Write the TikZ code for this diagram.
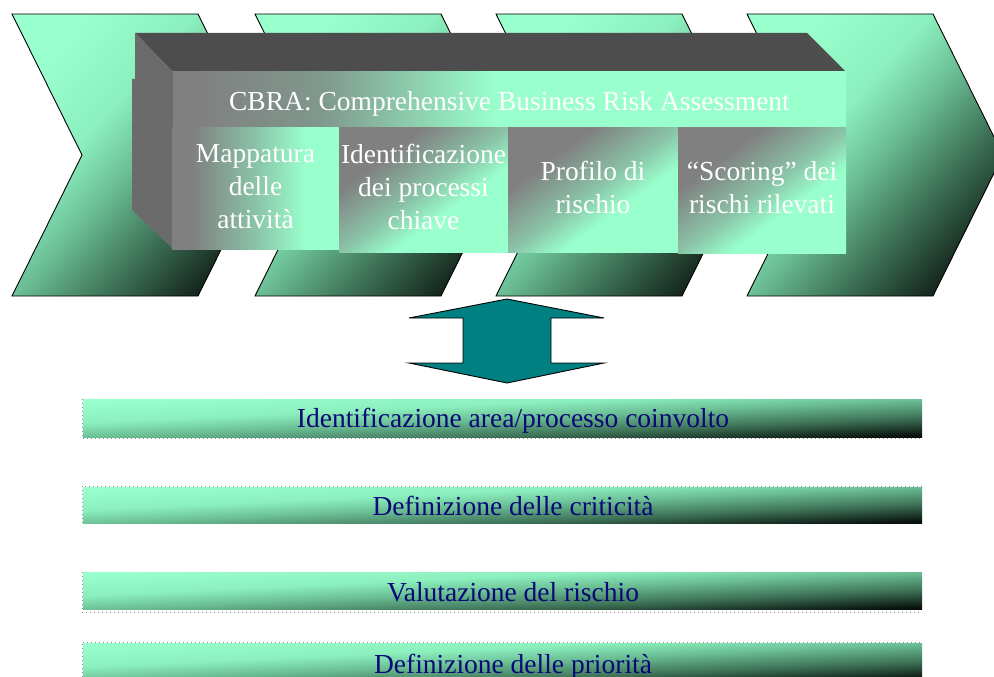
\documentclass[tikz,border=0pt]{standalone}
\usepackage{fontspec}
\setmainfont{Liberation Serif}

% palette
\definecolor{mint}{RGB}{153,255,204}
\definecolor{seaA}{RGB}{140,240,190}
\definecolor{seaB}{RGB}{108,192,150}
\definecolor{seaC}{RGB}{62,115,88}
\definecolor{seaD}{RGB}{22,40,30}
\definecolor{barD}{RGB}{8,16,12}
\definecolor{fgray}{RGB}{128,128,128}
\definecolor{gmA}{RGB}{138,195,168}
\definecolor{gmB}{RGB}{128,152,141}
\definecolor{topgray}{RGB}{77,77,77}
\definecolor{sidegray}{RGB}{107,107,107}
\definecolor{arrowteal}{RGB}{0,128,128}
\definecolor{labelblue}{RGB}{8,8,120}

% Ramps run from 25bp (one corner of the shape) to 75bp (the opposite corner).
% With shading angle = -atan(width/height) the colour bands follow the
% bottom-left/top-right diagonal of the shape's bounding box.
\pgfdeclarehorizontalshading{seagrad}{100bp}{color(0bp)=(mint); color(25bp)=(mint);
  color(40bp)=(seaA); color(50bp)=(seaB); color(62.5bp)=(seaC);
  color(75bp)=(seaD); color(100bp)=(seaD)}
\pgfdeclarehorizontalshading{bargrad}{100bp}{color(0bp)=(mint); color(25bp)=(mint);
  color(40bp)=(seaA); color(50bp)=(seaB); color(62.5bp)=(seaC);
  color(75bp)=(barD); color(100bp)=(barD)}
\pgfdeclarehorizontalshading{graymintdiag}{100bp}{color(0bp)=(fgray); color(32.5bp)=(fgray);
  color(50bp)=(gmA); color(61bp)=(mint); color(100bp)=(mint)}
% grey to mint, horizontal (title band)
\pgfdeclarehorizontalshading{graymintband}{100bp}{color(0bp)=(fgray); color(27bp)=(fgray);
  color(36bp)=(gmB); color(49bp)=(mint); color(100bp)=(mint)}
% grey to mint, horizontal (first step box)
\pgfdeclarehorizontalshading{graymintstep}{100bp}{color(0bp)=(fgray); color(31bp)=(fgray);
  color(50bp)=(gmA); color(65bp)=(mint); color(100bp)=(mint)}

\begin{document}
\begin{tikzpicture}[x=1bp,y=-1bp,
  chev/.style={shade, shading=seagrad, shading angle=-42.2, draw=black, line width=0.9bp, line join=miter},
  dblarrow/.style={fill=arrowteal, draw=black, line width=0.9bp, line join=miter},
  stepbox/.style={shade, shading=graymintdiag, shading angle=-53.7, anchor=north west,
    inner sep=0pt, outer sep=0pt, minimum width=168bp, minimum height=124bp,
    text=white, align=center, font=\fontsize{27.5bp}{33bp}\selectfont},
  band/.style={shade, shading=graymintband, anchor=north west, inner sep=0pt, outer sep=0pt,
    minimum width=673bp, minimum height=56bp, text height=20bp, text depth=0bp,
    text=white, font=\fontsize{27.5bp}{33bp}\selectfont},
  bar/.style={shade, shading=bargrad, shading angle=-87.4, anchor=north west,
    inner sep=0pt, outer sep=0pt, minimum width=839bp},
  bartext/.style={anchor=base, text=labelblue, inner sep=0pt,
    font=\fontsize{27.5bp}{33bp}\selectfont},
  dotline/.style={draw=black!45, line width=0.7bp, dash pattern=on 0.9bp off 3.1bp},
]
\useasboundingbox (0,0) rectangle (994,677);
\clip (0,0) rectangle (994,677);

% process chevrons
\path[chev] (12,14) -- (198,14) -- (268,155) -- (198,296) -- (12,296) -- (82,155) -- cycle;
\path[chev] (255,14) -- (441,14) -- (511,155) -- (441,296) -- (255,296) -- (325,155) -- cycle;
\path[chev] (496,14) -- (682,14) -- (752,155) -- (682,296) -- (496,296) -- (566,155) -- cycle;
\path[chev] (747,14) -- (933,14) -- (1003,155) -- (933,296) -- (747,296) -- (817,155) -- cycle;

% up/down double arrow
\path[dblarrow] (507,299) -- (604,318) -- (551,318) -- (551,363) -- (604,363) -- (507,383)
  -- (409,363) -- (463,363) -- (463,318) -- (409,318) -- cycle;

% 3-D block: top and left faces
\fill[topgray] (135,33) -- (807,33) -- (846,72) -- (173,72) -- cycle;
\fill[sidegray] (135,33) -- (173,72) -- (173,249) -- (132,210) -- (132,79) -- (135,79) -- cycle;

% front face: title band and the four steps
\node[band] (title) at (173,72) {CBRA: Comprehensive Business Risk Assessment};
\node[stepbox, shading=graymintstep, shading angle=0, minimum width=167bp, minimum height=121bp]
  (s1) at (172,128) {\strut Mappatura\\\strut delle\\\strut attività};
\node[stepbox, minimum width=169bp] (s2) at (339,128)
  {\strut Identificazione\\\strut dei processi\\\strut chiave};
\node[stepbox, minimum width=170bp] (s3) at (508,128) {\strut Profilo di\\\strut rischio};
\node[stepbox, minimum height=125bp] (s4) at (678,128) {\strut “Scoring” dei\\\strut rischi rilevati};

% result bars
\node[bar, minimum height=38bp] (b1) at (83,399) {};
\node[bar, minimum height=36bp] (b2) at (83,487) {};
\node[bar, minimum height=37bp] (b3) at (83,572) {};
\node[bar, minimum height=38bp] (b4) at (83,643) {};

\draw[dotline] (82,399) -- (82,438) -- (922,438);
\draw[dotline] (82,523) -- (82,486) -- (922,486);
\draw[dotline] (82,572) -- (82,612) -- (922,612);
\draw[dotline] (82,677) -- (82,642) -- (922,642);

\node[bartext] (t1) at (513,427) {Identificazione area/processo coinvolto};
\node[bartext] (t2) at (513,515) {Definizione delle criticità};
\node[bartext] (t3) at (513,601) {Valutazione del rischio};
\node[bartext] (t4) at (513,673) {Definizione delle priorità};
\end{tikzpicture}
\end{document}
